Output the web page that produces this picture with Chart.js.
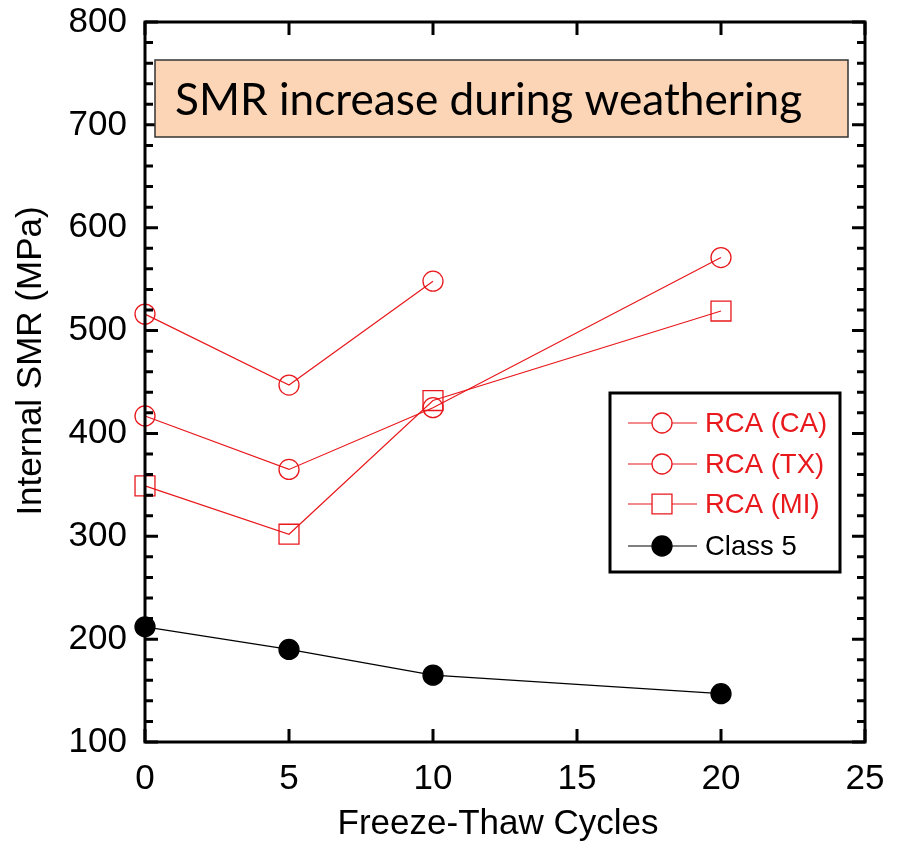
<!DOCTYPE html>
<html>
<head>
<meta charset="utf-8">
<script src="https://cdn.jsdelivr.net/npm/chart.js@4"></script>
<style>
    html, body { margin: 0; padding: 0; background: #fff; }
    #wrap { width: 899px; height: 845px; }
</style>
</head>
<body>
<div id="wrap"><canvas id="smrChart" width="899" height="845"></canvas></div>
<script>
// Freeze-thaw cycles
const cycles = [0, 5, 10, 20];
// Internal SMR (MPa)
const rcaCA = [516, 447, 548];
const rcaTX = [417, 365, 425, 571];
const rcaMI = [349, 302, 432, 519];
const class5 = [212, 190, 165, 147];

const xTicks = [0, 5, 10, 15, 20, 25];
const yTicks = [100, 200, 300, 400, 500, 600, 700, 800];

const RED = 'rgb(232,24,28)';
const HOLLOW = 'rgba(255,255,255,0)';
const toPts = (ys) => ys.map((y, i) => ({ x: cycles[i], y: y }));

// frame, inward ticks, axis titles, title box, legend
const decor = {
    id: 'decor',
    afterDraw(chart) {
        const ctx = chart.ctx;
        const a = chart.chartArea;
        const xs = chart.scales.x, ys = chart.scales.y;
        ctx.save();
        ctx.strokeStyle = '#000';
        ctx.lineWidth = 3;
        ctx.strokeRect(a.left, a.top, a.right - a.left, a.bottom - a.top);

        ctx.beginPath();
        for (let v = 100; v <= 800; v += 20) {
            const y = ys.getPixelForValue(v);
            const len = v % 100 === 0 ? 13 : 8;
            ctx.moveTo(a.left, y); ctx.lineTo(a.left + len, y);
            ctx.moveTo(a.right, y); ctx.lineTo(a.right - len, y);
        }
        xTicks.forEach(v => {
            const x = xs.getPixelForValue(v);
            ctx.moveTo(x, a.bottom); ctx.lineTo(x, a.bottom - 13);
            ctx.moveTo(x, a.top); ctx.lineTo(x, a.top + 13);
        });
        ctx.stroke();

        // axis titles
        ctx.fillStyle = '#000';
        ctx.font = '35px "Liberation Sans", Arial, sans-serif';
        ctx.textAlign = 'center';
        ctx.textBaseline = 'middle';
        ctx.fillText('Freeze-Thaw Cycles', 498, 824);
        ctx.save();
        ctx.translate(31, 361);
        ctx.rotate(-Math.PI / 2);
        ctx.fillText('Internal SMR (MPa)', 0, 0);
        ctx.restore();

        // title box
        ctx.fillStyle = '#fbd5b5';
        ctx.fillRect(155, 60, 693, 77);
        ctx.lineWidth = 1.5;
        ctx.strokeStyle = '#333';
        ctx.strokeRect(155, 60, 693, 77);
        const title = 'SMR increase during weathering';
        ctx.font = '100px Lato, "Open Sans", sans-serif';
        const fs = 100 * 628 / ctx.measureText(title).width;
        ctx.font = fs.toFixed(1) + 'px Lato, "Open Sans", sans-serif';
        ctx.fillStyle = '#000';
        ctx.textAlign = 'left';
        ctx.textBaseline = 'alphabetic';
        ctx.fillText(title, 175, 115);

        // legend
        ctx.fillStyle = '#fff';
        ctx.fillRect(610, 393, 230, 179);
        ctx.lineWidth = 3;
        ctx.strokeStyle = '#000';
        ctx.strokeRect(610, 393, 230, 179);
        const rows = [423, 464, 504, 546];
        ctx.font = '27.5px "Liberation Sans", Arial, sans-serif';
        ctx.textBaseline = 'middle';
        chart.data.datasets.forEach((ds, i) => {
            const y = rows[i];
            ctx.strokeStyle = ds.borderColor;
            ctx.lineWidth = 1.2;
            ctx.beginPath();
            ctx.moveTo(628, y); ctx.lineTo(697, y);
            ctx.stroke();
            ctx.fillStyle = ds.legendFill;
            ctx.strokeStyle = ds.pointBorderColor;
            ctx.lineWidth = ds.pointBorderWidth;
            ctx.beginPath();
            if (ds.pointStyle === 'rect') {
                const s = Math.SQRT1_2 * ds.pointRadius;
                ctx.rect(662 - s, y - s, 2 * s, 2 * s);
            } else {
                ctx.arc(662, y, ds.pointRadius, 0, Math.PI * 2);
            }
            ctx.fill();
            ctx.stroke();
            ctx.fillStyle = ds.labelColor;
            ctx.fillText(ds.label, 705, y + 1);
        });
        ctx.restore();
    }
};

function series(label, ys, color, fill, style, r, labelColor) {
    return {
        label: label,
        data: toPts(ys),
        borderColor: color,
        borderWidth: 1.2,
        pointStyle: style,
        pointRadius: r,
        pointHoverRadius: r,
        pointBorderWidth: 1.3,
        pointBorderColor: color,
        pointBackgroundColor: fill,
        legendFill: fill === HOLLOW ? '#fff' : fill,
        labelColor: labelColor,
        clip: false,
        tension: 0
    };
}

new Chart(document.getElementById('smrChart'), {
    type: 'line',
    data: {
        datasets: [
            series('RCA (CA)', rcaCA, RED, HOLLOW, 'circle', 10, RED),
            series('RCA (TX)', rcaTX, RED, HOLLOW, 'circle', 10, RED),
            series('RCA (MI)', rcaMI, RED, HOLLOW, 'rect', 14.1, RED),
            series('Class 5', class5, '#000', '#000', 'circle', 10, '#000')
        ]
    },
    options: {
        responsive: false,
        animation: false,
        events: [],
        layout: { padding: { top: 22, right: 34, left: 0, bottom: 0 } },
        plugins: { legend: { display: false }, tooltip: { enabled: false } },
        scales: {
            x: {
                type: 'linear', min: 0, max: 25,
                afterBuildTicks: s => { s.ticks = xTicks.map(v => ({ value: v })); },
                afterFit: s => { s.height = 103; s.paddingLeft = 0; s.paddingRight = 0; },
                grid: { display: false, drawTicks: false },
                border: { display: false },
                ticks: { padding: 16, color: '#000', font: { family: '"Liberation Sans", Arial', size: 35 } }
            },
            y: {
                min: 100, max: 800,
                afterBuildTicks: s => { s.ticks = yTicks.map(v => ({ value: v })); },
                afterFit: s => { s.width = 145; s.paddingTop = 0; s.paddingBottom = 0; },
                grid: { display: false, drawTicks: false },
                border: { display: false },
                ticks: { padding: 18, color: '#000', font: { family: '"Liberation Sans", Arial', size: 35 } }
            }
        }
    },
    plugins: [decor]
});
</script>
</body>
</html>
